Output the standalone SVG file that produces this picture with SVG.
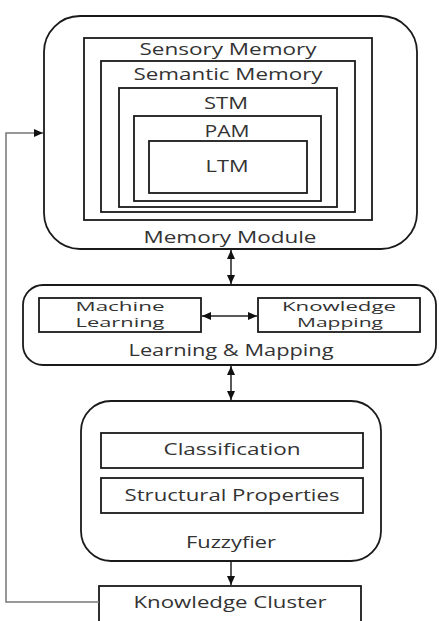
<svg xmlns="http://www.w3.org/2000/svg" width="439" height="621" viewBox="0 0 439 621">
<defs>
<style>
.box{fill:#fff;stroke:#1a1a1a;stroke-width:1.8}
.in{fill:none;stroke:#1a1a1a;stroke-width:1.8}
.t{font-family:"Open Sans","Noto Sans",sans-serif;font-size:16px;fill:#333;text-anchor:middle}
.s{font-size:13.5px}
.c{fill:none;stroke:#222;stroke-width:1.5}
.fb{fill:none;stroke:#777;stroke-width:1.5}
</style>
<marker id="ah" markerWidth="10" markerHeight="10" refX="9" refY="5" orient="auto-start-reverse" markerUnits="userSpaceOnUse">
<path d="M0,1 L9,5 L0,9 Z" fill="#111"/>
</marker>
</defs>
<rect width="439" height="621" fill="#fff"/>
<g id="memory-module">
<rect class="box" x="44" y="16" width="373" height="233" rx="36" ry="36"/>
<text class="t" x="230" y="243" textLength="173" lengthAdjust="spacingAndGlyphs">Memory Module</text>
</g>
<g id="sensory-memory">
<rect class="in" x="84" y="38" width="288" height="182"/>
<text class="t" x="228" y="55" textLength="177" lengthAdjust="spacingAndGlyphs">Sensory Memory</text>
</g>
<g id="semantic-memory">
<rect class="in" x="101" y="61" width="254" height="151"/>
<text class="t" x="228" y="80" textLength="189" lengthAdjust="spacingAndGlyphs">Semantic Memory</text>
</g>
<g id="stm">
<rect class="in" x="119" y="88" width="218" height="119"/>
<text class="t" x="226" y="109" textLength="44" lengthAdjust="spacingAndGlyphs">STM</text>
</g>
<g id="pam">
<rect class="in" x="134" y="116" width="187" height="85"/>
<text class="t" x="227" y="137" textLength="45" lengthAdjust="spacingAndGlyphs">PAM</text>
</g>
<g id="ltm">
<rect class="in" x="149" y="141" width="158" height="52"/>
<text class="t" x="227" y="172" textLength="43" lengthAdjust="spacingAndGlyphs">LTM</text>
</g>
<g id="learning-mapping">
<rect class="box" x="23" y="285" width="413" height="80" rx="20" ry="20"/>
<text class="t" x="231" y="356" textLength="205" lengthAdjust="spacingAndGlyphs">Learning &amp; Mapping</text>
</g>
<g id="machine-learning">
<rect class="in" x="39" y="298" width="162" height="34"/>
<text class="t s" x="120" y="310.5" textLength="89" lengthAdjust="spacingAndGlyphs">Machine</text>
<text class="t s" x="120" y="327" textLength="89" lengthAdjust="spacingAndGlyphs">Learning</text>
</g>
<g id="knowledge-mapping">
<rect class="in" x="258" y="298" width="162" height="34"/>
<text class="t s" x="339" y="310.5" textLength="114" lengthAdjust="spacingAndGlyphs">Knowledge</text>
<text class="t s" x="340" y="327" textLength="86" lengthAdjust="spacingAndGlyphs">Mapping</text>
</g>
<g id="fuzzyfier">
<rect class="box" x="81" y="401" width="300" height="160" rx="30" ry="30"/>
<text class="t" x="231" y="548" textLength="90" lengthAdjust="spacingAndGlyphs">Fuzzyfier</text>
</g>
<g id="classification">
<rect class="in" x="101" y="433" width="262" height="35"/>
<text class="t" x="232" y="455" textLength="137" lengthAdjust="spacingAndGlyphs">Classification</text>
</g>
<g id="structural-properties">
<rect class="in" x="101" y="478" width="262" height="35"/>
<text class="t" x="232" y="501" textLength="215" lengthAdjust="spacingAndGlyphs">Structural Properties</text>
</g>
<g id="knowledge-cluster">
<rect class="box" x="99" y="586" width="262" height="36"/>
<text class="t" x="230" y="608" textLength="193" lengthAdjust="spacingAndGlyphs">Knowledge Cluster</text>
</g>
<g id="connectors">
<line class="c" x1="231" y1="250" x2="231" y2="284" marker-start="url(#ah)" marker-end="url(#ah)"/>
<line class="c" x1="231" y1="366" x2="231" y2="400" marker-start="url(#ah)" marker-end="url(#ah)"/>
<line class="c" x1="202" y1="316" x2="257" y2="316" marker-start="url(#ah)" marker-end="url(#ah)"/>
<line class="c" x1="231" y1="562" x2="231" y2="585" marker-end="url(#ah)"/>
<polyline class="fb" points="99,602 6,602 6,133 43,133" marker-end="url(#ah)"/>
</g>
</svg>
